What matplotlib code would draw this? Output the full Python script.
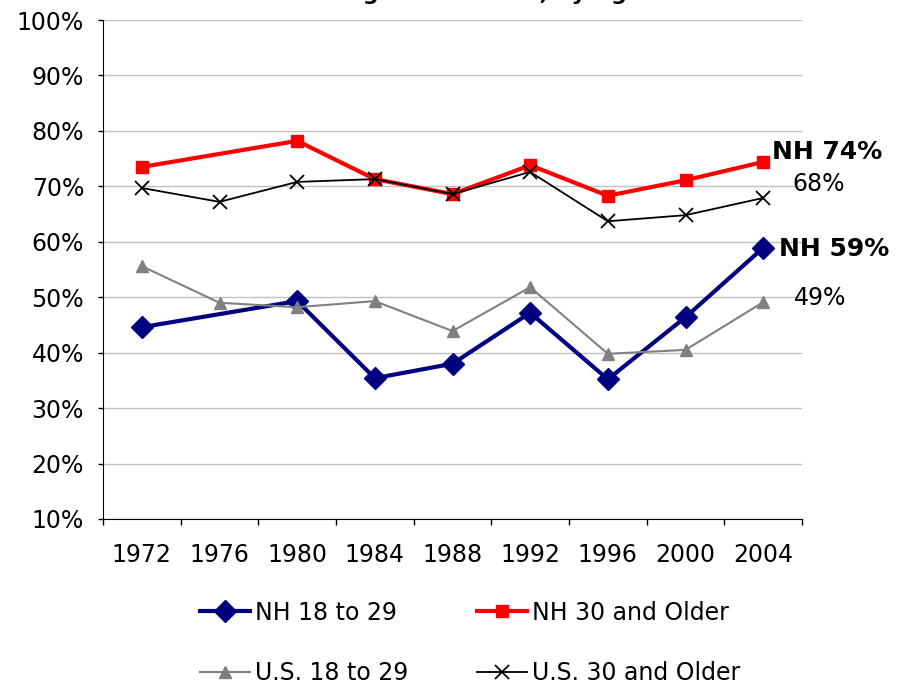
"""Voter turnout among generations, by age: NH vs. U.S., 1972-2004."""

import matplotlib
matplotlib.use("Agg")
import matplotlib.pyplot as plt
from matplotlib.ticker import FixedLocator, FuncFormatter
import numpy as np

YEARS = ["1972", "1976", "1980", "1984", "1988", "1992", "1996", "2000", "2004"]

# NH has no 1976 point; the line jumps straight from 1972 to 1980
NH_YEARS = ["1972", "1980", "1984", "1988", "1992", "1996", "2000", "2004"]
NH_18_29 = [44.6, 49.3, 35.4, 38.0, 47.2, 35.2, 46.4, 58.9]
NH_30_UP = [73.5, 78.2, 71.3, 68.6, 73.8, 68.3, 71.1, 74.4]

US_18_29 = [55.6, 49.0, 48.2, 49.3, 43.9, 51.8, 39.8, 40.5, 49.1]
US_30_UP = [69.7, 67.2, 70.8, 71.3, 68.6, 72.6, 63.7, 64.8, 67.9]

NAVY = "#000080"
RED = "#FF0000"
GRAY = "#808080"
GRID = "#C0C0C0"
FS = 17
FS_BOLD = 18

plt.rcParams["font.family"] = "DejaVu Sans"

fig = plt.figure(figsize=(9.06, 6.84), dpi=100)
ax = fig.add_axes([103 / 906, 1 - 519 / 684, 699 / 906, 499 / 684])

xpos = {y: i for i, y in enumerate(YEARS)}
x_nh = [xpos[y] for y in NH_YEARS]
x_us = np.arange(len(YEARS))

h1, = ax.plot(x_nh, NH_18_29, color=NAVY, lw=3, marker="D", ms=11.5,
              label="NH 18 to 29", zorder=3, clip_on=False)
h2, = ax.plot(x_nh, NH_30_UP, color=RED, lw=3, marker="s", ms=8,
              label="NH 30 and Older", zorder=4, clip_on=False)
h3, = ax.plot(x_us, US_18_29, color=GRAY, lw=1.5, marker="^", ms=9,
              label="U.S. 18 to 29", zorder=5, clip_on=False)
h4, = ax.plot(x_us, US_30_UP, color="black", lw=1.3, marker="x", ms=10,
              mew=1.3, label="U.S. 30 and Older", zorder=6, clip_on=False)

# end-of-line callouts
ax.text(8.12, 76.2, f"NH {NH_30_UP[-1]:.0f}%", fontsize=FS_BOLD,
        fontweight="bold", ha="left", va="center", clip_on=False)
ax.text(8.37, 70.4, f"{US_30_UP[-1]:.0f}%", fontsize=FS,
        ha="left", va="center", clip_on=False)
ax.text(8.21, 58.7, f"NH {NH_18_29[-1]:.0f}%", fontsize=FS_BOLD,
        fontweight="bold", ha="left", va="center", clip_on=False)
ax.text(8.39, 49.9, f"{US_18_29[-1]:.0f}%", fontsize=FS,
        ha="left", va="center", clip_on=False)

ax.set_xlim(-0.5, len(YEARS) - 0.5)
ax.set_ylim(10, 100)

# category axis: ticks between categories, labels at the centers
ax.xaxis.set_major_locator(FixedLocator(np.arange(-0.5, len(YEARS), 1.0)))
ax.xaxis.set_major_formatter(FuncFormatter(lambda v, p: ""))
ax.xaxis.set_minor_locator(FixedLocator(x_us))
ax.set_xticklabels(YEARS, minor=True)
ax.tick_params(axis="x", which="major", direction="out", length=4.3, width=1,
               color="black")
ax.tick_params(axis="x", which="minor", length=0, pad=17, labelsize=FS)

ax.set_yticks(np.arange(10, 101, 10))
ax.yaxis.set_major_formatter(FuncFormatter(lambda v, p: f"{v:.0f}%"))
ax.tick_params(axis="y", direction="out", length=3.6, width=1, color="black",
               pad=10, labelsize=FS)

ax.grid(axis="y", color=GRID, lw=1)
ax.set_axisbelow(True)
for side in ("top", "right"):
    ax.spines[side].set_visible(False)
ax.spines["left"].set_color("black")
ax.spines["bottom"].set_color("black")

# title runs off the top edge in the source image
fig.text(110 / 906, 1.0, "Voter Turnout Among Generations, by Age",
         fontsize=16, fontweight="bold", ha="left", va="baseline")

# row-major order: NH pair on the first row, U.S. pair on the second
fig.legend([h1, h3, h2, h4], [h.get_label() for h in (h1, h3, h2, h4)],
           loc="center", bbox_to_anchor=(470 / 906, 1 - 643 / 684), ncol=2,
           frameon=False, fontsize=FS, handlelength=2.12, handletextpad=0.2,
           columnspacing=2.9, labelspacing=1.55, borderpad=0)

fig.savefig("out.png", dpi=100)
